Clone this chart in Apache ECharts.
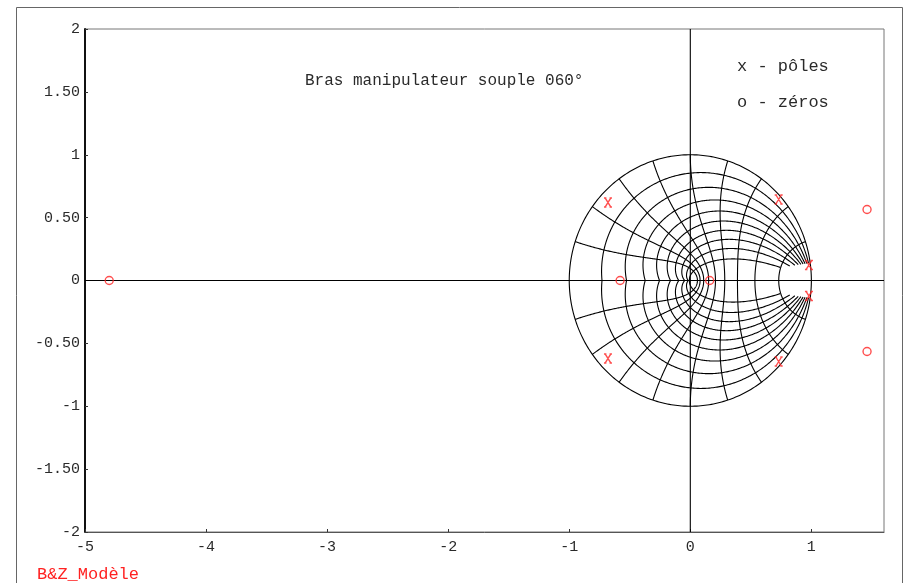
<!DOCTYPE html>
<html>
<head>
<meta charset="utf-8">
<script src="https://cdn.jsdelivr.net/npm/echarts@6/dist/echarts.min.js"></script>
<style>
  html, body { margin: 0; padding: 0; background: #fff; }
  #chart { width: 906px; height: 583px; }
</style>
</head>
<body>
<div id="chart"></div>
<script>
// Pôles et zéros du modèle (plan z)
const poles = [[-0.68, 0.62], [-0.68, -0.62], [0.73, 0.645], [0.73, -0.645], [0.98, 0.123], [0.98, -0.123]];
const zeros = [[-4.80, 0], [-0.58, 0], [0.16, 0], [1.46, 0.565], [1.46, -0.565]];

// Graduations des axes
const xTicks = [-5, -4, -3, -2, -1, 0, 1];
const yTickLabels = { '2': '2', '1.5': '1.50', '1': '1', '0.5': '0.50', '0': '0',
  '-0.5': '-0.50', '-1': '-1', '-1.5': '-1.50', '-2': '-2' };

// Grille du plan z : amortissements constants et pulsations propres constantes
const zetaValues = [0.1, 0.2, 0.3, 0.4, 0.5, 0.6, 0.7, 0.8, 0.9];
const wnSteps = [1, 2, 3, 4, 5, 6, 7, 8, 9]; // wn*T = k*pi/10

const MONO = '"Liberation Mono", "DejaVu Sans Mono", monospace';

function gridCurves() {
  const curves = [];
  const N = 240;
  // amortissement constant : z = exp(-zeta/sqrt(1-zeta^2)*th) * exp(j*th)
  zetaValues.forEach(function (zeta) {
    const k = zeta / Math.sqrt(1 - zeta * zeta);
    const up = [], dn = [];
    const th0 = 0.14;
    for (let i = 0; i <= N; i++) {
      const th = th0 + (Math.PI - th0) * i / N;
      const r = Math.exp(-k * th);
      up.push([r * Math.cos(th), r * Math.sin(th)]);
      dn.push([r * Math.cos(th), -r * Math.sin(th)]);
    }
    curves.push({ coords: up }, { coords: dn });
  });
  // pulsation propre constante
  wnSteps.forEach(function (s) {
    const w = s * Math.PI / 10;
    const up = [], dn = [];
    for (let i = 0; i <= N; i++) {
      const zeta = i / N;
      const r = Math.exp(-zeta * w);
      const a = w * Math.sqrt(1 - zeta * zeta);
      up.push([r * Math.cos(a), r * Math.sin(a)]);
      dn.push([r * Math.cos(a), -r * Math.sin(a)]);
    }
    curves.push({ coords: up }, { coords: dn });
  });
  // cercle unité
  const circ = [];
  for (let i = 0; i <= 360; i++) {
    const a = 2 * Math.PI * i / 360;
    circ.push([Math.cos(a), Math.sin(a)]);
  }
  curves.push({ coords: circ });
  // axes réel et imaginaire
  curves.push({ coords: [[-5, 0], [1.6, 0]] });
  curves.push({ coords: [[0, -2], [0, 2]] });
  return curves;
}

const crossPath = 'path://M0,0 L3,0 M7,0 L10,0 M1.5,0 L8.5,10 M8.5,0 L1.5,10 M0,10 L3,10 M7,10 L10,10';

const chart = echarts.init(document.getElementById('chart'), null, { renderer: 'canvas' });
chart.setOption({
  animation: false,
  backgroundColor: '#fff',
  grid: { left: 85, right: 22, top: 29, bottom: 51, show: true, borderColor: '#777', borderWidth: 1, backgroundColor: 'transparent' },
  xAxis: {
    type: 'value', min: -5, max: 1.6, interval: 1,
    axisLine: { show: true, onZero: false, lineStyle: { color: '#555', width: 1 } },
    axisTick: { show: true, inside: true, length: 3, lineStyle: { color: '#333' } },
    splitLine: { show: false },
    axisLabel: {
      showMaxLabel: false, margin: 8,
      fontFamily: MONO, fontSize: 15, color: '#2a2a2a',
      formatter: function (v) { return xTicks.indexOf(v) >= 0 ? String(v) : ''; }
    }
  },
  yAxis: {
    type: 'value', min: -2, max: 2, interval: 0.5,
    axisLine: { show: true, onZero: false, lineStyle: { color: '#111', width: 2 } },
    axisTick: { show: true, inside: true, length: 3, lineStyle: { color: '#333' } },
    splitLine: { show: false },
    axisLabel: {
      margin: 5, fontFamily: MONO, fontSize: 15, color: '#2a2a2a',
      formatter: function (v) { return yTickLabels[String(v)] || ''; }
    }
  },
  graphic: [
    { type: 'rect', silent: true, shape: { x: 16.5, y: 7.5, width: 886, height: 620 },
      style: { fill: 'none', stroke: '#666', lineWidth: 1 } },
    { type: 'text', left: 305, top: 73, style: { text: 'Bras manipulateur souple 060°', font: '16px ' + MONO, fill: '#2a2a2a' } },
    { type: 'text', left: 737, top: 58, style: { text: 'x - pôles', font: '17px ' + MONO, fill: '#2a2a2a' } },
    { type: 'text', left: 737, top: 94, style: { text: 'o - zéros', font: '17px ' + MONO, fill: '#2a2a2a' } },
    { type: 'text', left: 37, top: 566, style: { text: 'B&Z_Modèle', font: '17px ' + MONO, fill: '#f22' } }
  ],
  series: [
    {
      type: 'lines', coordinateSystem: 'cartesian2d', polyline: true, silent: true,
      lineStyle: { color: '#000', width: 1.1, opacity: 1 },
      data: gridCurves()
    },
    {
      name: 'pôles', type: 'scatter', symbol: crossPath, symbolSize: [8, 9], silent: true,
      itemStyle: { color: 'none', borderColor: '#f22', borderWidth: 1.4 },
      data: poles, z: 5
    },
    {
      name: 'zéros', type: 'scatter', symbol: 'circle', symbolSize: 8, silent: true,
      itemStyle: { color: 'none', borderColor: '#f22', borderWidth: 1.4 },
      data: zeros, z: 5
    }
  ]
});
</script>
</body>
</html>
